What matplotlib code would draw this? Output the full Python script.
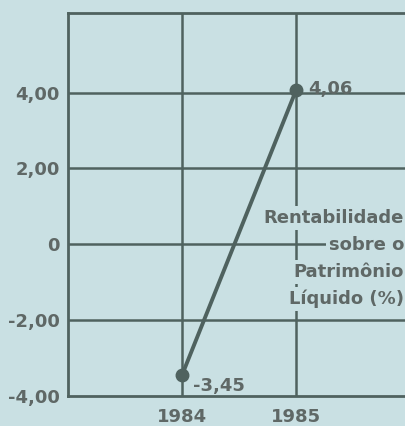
import matplotlib
matplotlib.use("Agg")
import matplotlib.pyplot as plt

# Return on equity (%), by year
years = [1984, 1985]
values = [-3.45, 4.06]
value_labels = ["-3,45", "4,06"]
y_ticks = [-4, -2, 0, 2, 4]
y_tick_labels = ["-4,00", "-2,00", "0", "2,00", "4,00"]
x_ticks = [1984, 1985]
x_tick_labels = ["1984", "1985"]
title_lines = ["Rentabilidade", "sobre o", "Patrimônio", "Líquido (%)"]

bg = "#c9e0e3"
ink = "#4f625f"
text_c = "#5f6866"
fs = 13

plt.rcParams["font.family"] = ["DejaVu Sans"]
plt.rcParams["font.weight"] = "bold"

fig = plt.figure(figsize=(4.06, 4.26), dpi=100, facecolor=bg)
W, H = 406, 426
left, right, top, bottom = 68, 410, 13, 396
ax = fig.add_axes([left / W, (H - bottom) / H, (right - left) / W, (bottom - top) / H])
ax.set_facecolor(bg)

ax.set_xlim(1983, 1986)
ax.set_ylim(-4, 6.1)

# grid
for y in y_ticks[1:]:
    ax.axhline(y, color=ink, lw=1.8, zorder=1)
for x in [1984, 1985, 1986]:
    ax.axvline(x, color=ink, lw=1.8, zorder=1)

for side in ["left", "bottom", "top"]:
    ax.spines[side].set_color(ink)
    ax.spines[side].set_linewidth(2.0)
ax.spines["right"].set_visible(False)

ax.set_yticks(y_ticks)
ax.set_yticklabels(y_tick_labels)
ax.set_xticks(x_ticks)
ax.set_xticklabels(x_tick_labels)
ax.tick_params(length=0, colors=text_c, labelsize=fs)
ax.tick_params(axis="y", pad=6)
ax.tick_params(axis="x", pad=9)
for lab in ax.get_xticklabels() + ax.get_yticklabels():
    lab.set_fontweight("bold")

# data line
ax.plot(years, values, color=ink, lw=2.8, marker="o", ms=9, zorder=4, clip_on=False)

ax.annotate(value_labels[0], (years[0], values[0]), xytext=(8, -8),
            textcoords="offset points", color=text_c, fontsize=fs,
            fontweight="bold", ha="left", va="center")
ax.annotate(value_labels[1], (years[1], values[1]), xytext=(9, 1),
            textcoords="offset points", color=text_c, fontsize=fs,
            fontweight="bold", ha="left", va="center")

# series caption, each line masks the grid behind it
ys_px = [218, 245, 272, 299]
for line, ypx in zip(title_lines, ys_px):
    fig.text(404 / W, 1 - ypx / H, line, ha="right", va="center",
             color=text_c, fontsize=fs, fontweight="bold",
             bbox=dict(facecolor=bg, edgecolor="none", pad=2.0), zorder=5)

fig.savefig("out.png", dpi=100, facecolor=bg)
